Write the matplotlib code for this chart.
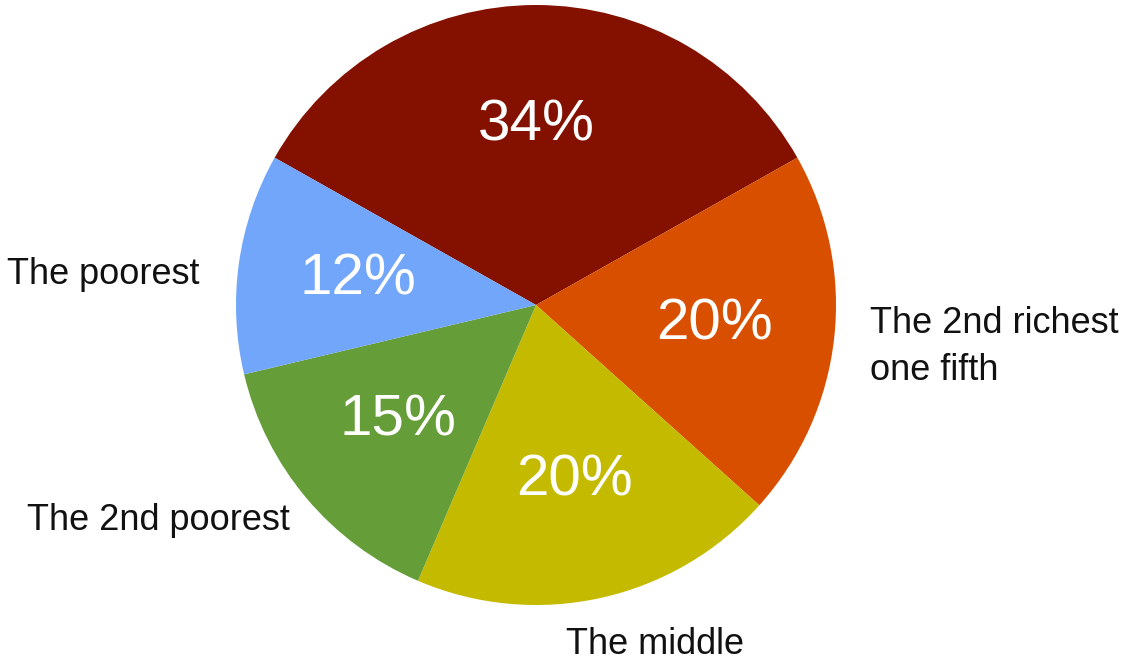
import matplotlib
matplotlib.use('Agg')
import matplotlib.pyplot as plt

plt.rcParams['font.family'] = ['Liberation Sans', 'DejaVu Sans']

groups = ['', 'The 2nd richest\none fifth', 'The middle', 'The 2nd poorest', 'The poorest']
shares = [34, 20, 20, 15, 12]
colors = ['#841000', '#d84f00', '#c4bb00', '#659d38', '#72a6fa']

fig = plt.figure(figsize=(11.21, 6.63), dpi=100)
ax = fig.add_axes([0, 0, 1, 1])

# richest slice centred at the top, going clockwise
start = 90 + 360 * shares[0] / sum(shares) / 2
wedges, texts, autotexts = ax.pie(
    shares, labels=groups, colors=colors, startangle=start, counterclock=False,
    autopct=lambda p: '%d%%' % round(p * sum(shares) / 100),
    pctdistance=0.6, labeldistance=1.1,
    textprops={'fontsize': 26, 'color': '#111111'},
    wedgeprops={'linewidth': 0},
)
for t in autotexts:
    t.set_color('white')
    t.set_fontsize(42)

texts[1].set_position((1.113, -0.14))
texts[1].set_ha('left')
texts[1].set_va('center')
texts[1].set_linespacing(1.45)
texts[2].set_position((0.1, -1.13))
texts[2].set_ha('left')
texts[3].set_position((-0.82, -0.72))
texts[4].set_position((-1.12, 0.1))

ax.set_xlim(-536 / 300, (1121 - 536) / 300)
ax.set_ylim(-(663 - 305) / 300, 305 / 300)
ax.set_aspect('auto')
ax.axis('off')

fig.savefig('out.png', dpi=100)
